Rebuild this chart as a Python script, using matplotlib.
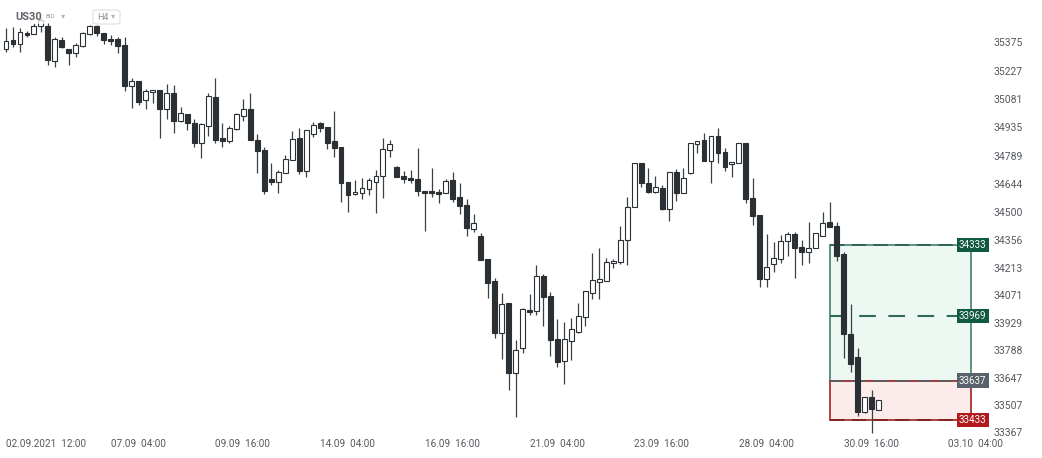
import numpy as np
import matplotlib.pyplot as plt
from matplotlib.patches import Rectangle, FancyBboxPatch

plt.rcParams['font.family'] = ['Roboto', 'DejaVu Sans']

# US30 H4 candles
opens = [35344, 35390, 35370, 35426, 35421, 35462, 35462, 35282, 35390, 35344,
         35323, 35359, 35421, 35462, 35426, 35395, 35395, 35364, 35153, 35179,
         35081, 35122, 35133, 35035, 35117, 34973, 35009, 34963, 34860, 34947,
         35097, 34885, 34870, 34932, 34999, 35035, 34875, 34824, 34674, 34659,
         34705, 34772, 34885, 34715, 34906, 34963, 34942, 34870, 34839, 34659,
         34597, 34602, 34623, 34659, 34690, 34824, 34736, 34690, 34679, 34674,
         34612, 34612, 34607, 34602, 34669, 34581, 34540, 34417, 34381, 34263,
         34149, 33881, 34036, 33675, 33804, 33999, 33994, 34175, 34072, 33850,
         33737, 33840, 33886, 33963, 34087, 34144, 34149, 34242, 34247, 34360,
         34530, 34757, 34654, 34607, 34628, 34520, 34710, 34602, 34705, 34855,
         34875, 34767, 34896, 34813, 34751, 34757, 34860, 34576, 34489, 34159,
         34236, 34263, 34355, 34391, 34324, 34298, 34319, 34381, 34453, 34432,
         34288, 33876, 33757, 33474, 33552, 33484]
highs = [35452, 35457, 35452, 35436, 35478, 35503, 35478, 35405, 35405, 35344,
         35375, 35431, 35467, 35467, 35426, 35416, 35405, 35405, 35194, 35179,
         35138, 35133, 35133, 35163, 35158, 35045, 35009, 34983, 34963, 35117,
         35194, 34963, 34947, 35014, 35086, 35117, 34906, 34839, 34757, 34721,
         34798, 34921, 34937, 34927, 34968, 34968, 34942, 35025, 34839, 34659,
         34669, 34679, 34679, 34721, 34885, 34875, 34741, 34715, 34721, 34834,
         34612, 34731, 34623, 34674, 34710, 34654, 34571, 34494, 34396, 34263,
         34164, 34087, 34036, 33845, 34010, 34082, 34231, 34185, 34092, 33953,
         33938, 33958, 34036, 34097, 34293, 34319, 34269, 34263, 34432, 34581,
         34757, 34757, 34731, 34690, 34643, 34710, 34726, 34731, 34860, 34870,
         34911, 34896, 34937, 34834, 34762, 34860, 34860, 34679, 34489, 34391,
         34350, 34386, 34401, 34401, 34360, 34453, 34396, 34504, 34556, 34453,
         34298, 34030, 33804, 33552, 33588, 33536]
lows = [35328, 35354, 35328, 35405, 35421, 35431, 35261, 35251, 35349, 35261,
        35303, 35354, 35416, 35411, 35370, 35364, 35323, 35127, 35040, 35056,
        35035, 35066, 34885, 34983, 34911, 34968, 34927, 34839, 34782, 34896,
        34860, 34839, 34860, 34927, 34973, 34875, 34705, 34597, 34643, 34602,
        34705, 34772, 34700, 34684, 34891, 34916, 34829, 34788, 34556, 34504,
        34592, 34571, 34592, 34499, 34576, 34788, 34684, 34654, 34654, 34587,
        34406, 34581, 34551, 34602, 34556, 34494, 34381, 34401, 34257, 34061,
        33855, 33747, 33588, 33448, 33778, 33974, 33974, 33917, 33762, 33706,
        33618, 33742, 33881, 33917, 34056, 34056, 34149, 34216, 34236, 34231,
        34530, 34633, 34602, 34602, 34515, 34458, 34561, 34602, 34700, 34808,
        34767, 34654, 34757, 34715, 34684, 34757, 34551, 34437, 34118, 34118,
        34195, 34242, 34278, 34164, 34231, 34242, 34319, 34381, 34427, 34252,
        33752, 33680, 33454, 33469, 33366, 33484]
closes = [35385, 35370, 35431, 35416, 35462, 35493, 35287, 35395, 35354, 35323,
          35364, 35426, 35462, 35426, 35390, 35385, 35359, 35153, 35179, 35071,
          35127, 35133, 35035, 35117, 34973, 35014, 34963, 34860, 34957, 35102,
          34875, 34870, 34937, 35009, 35035, 34875, 34819, 34612, 34659, 34710,
          34777, 34880, 34715, 34927, 34952, 34937, 34860, 34834, 34654, 34592,
          34607, 34628, 34669, 34690, 34829, 34855, 34684, 34674, 34669, 34612,
          34602, 34602, 34597, 34664, 34571, 34535, 34422, 34448, 34257, 34139,
          33881, 34030, 33675, 33793, 34005, 33989, 34175, 34067, 33845, 33731,
          33850, 33902, 33969, 34097, 34154, 34159, 34247, 34252, 34360, 34530,
          34757, 34654, 34607, 34633, 34520, 34710, 34602, 34679, 34860, 34870,
          34767, 34896, 34808, 34736, 34762, 34860, 34571, 34484, 34159, 34221,
          34269, 34355, 34391, 34319, 34298, 34319, 34396, 34448, 34427, 34278,
          33876, 33721, 33474, 33552, 33490, 33536]

price_ticks = [35375, 35227, 35081, 34935, 34789, 34644, 34500, 34356,
               34213, 34071, 33929, 33788, 33647, 33507, 33367]
date_labels = ['02.09.2021  12:00', '07.09  04:00', '09.09  16:00', '14.09  04:00',
               '16.09  16:00', '21.09  04:00', '23.09  16:00', '28.09  04:00',
               '30.09  16:00', '03.10  04:00']
label_step = 15

# long position tool
take_profit = 34333
mid_level = 33969
entry = 33637
stop_loss = 33433

W, H = 1042, 458
fig = plt.figure(figsize=(W / 100, H / 100), dpi=100)
ax = fig.add_axes([0, 0, 1, 1])
ax.axis('off')
ax.set_xlim(-0.86, 148.42)
ax.set_ylim(33238, 35596)

dark = '#2b3034'
o = np.array(opens)
c = np.array(closes)
idx = np.arange(len(o))
up = c >= o

ax.vlines(idx, lows, highs, color='#3b4045', lw=0.9, zorder=3)
ax.bar(idx[up], c[up] - o[up], bottom=o[up], width=0.7, color='white',
       edgecolor=dark, linewidth=0.8, zorder=4)
ax.bar(idx[~up], o[~up] - c[~up], bottom=c[~up], width=0.7, color=dark,
       edgecolor=dark, linewidth=0.8, zorder=4)

# position tool
x0, x1 = 118, 138.2
ax.add_patch(Rectangle((x0, entry), x1 - x0, take_profit - entry, facecolor='#edf8f3',
                       edgecolor='#4f8c77', lw=1.3, zorder=1))
ax.add_patch(Rectangle((x0, stop_loss), x1 - x0, entry - stop_loss, facecolor='#fcebeb',
                       edgecolor='#a83232', lw=1.3, zorder=1))
ax.hlines(take_profit, x0, x1, colors='#2f5f50', lw=1.3, linestyles=(0, (8, 4)), zorder=2)
ax.hlines(mid_level, x0, x1, colors='#2f6b55', lw=1.5, linestyles=(0, (8, 6)), zorder=2)
ax.hlines(entry, x0, x1, colors='#5b5f63', lw=1.3, linestyles=(0, (8, 4)), zorder=2)
ax.hlines(stop_loss, x0, x1, colors='#7d2222', lw=1.3, linestyles=(0, (8, 4)), zorder=2)

for val, col in [(take_profit, '#0f5a40'), (mid_level, '#0f5a40'),
                 (entry, '#57626c'), (stop_loss, '#b3191c')]:
    ax.text(x1 + 0.3, val, str(val), color='white', fontsize=7, ha='center', va='center',
            zorder=6, bbox=dict(boxstyle='square,pad=0.22', fc=col, ec='none'))

# price axis
for p in price_ticks:
    ax.text(141.5, p, str(p), fontsize=7.5, color='#555a5f', ha='left', va='center')

# time axis
for k, lab in enumerate(date_labels):
    ax.text(k * label_step, 33310, lab, fontsize=7.2, color='#555a5f', ha='left', va='center')

# header
fig.text(15 / W, 1 - 17 / H, 'US30', fontsize=8, fontweight='bold', color='#5f646a',
         va='center', bbox=dict(boxstyle='square,pad=0.2', fc='white', ec='none', alpha=0.75))
fig.text(45 / W, 1 - 17 / H, 'BID', fontsize=4.5, color='#9aa0a6', va='center')
fig.text(61 / W, 1 - 16 / H, '\u25BE', fontsize=6, color='#b0b5ba', va='center')
fig.patches.append(FancyBboxPatch((93 / W, 1 - 24 / H), 27 / W, 14 / H,
                                  boxstyle='round,pad=0,rounding_size=0.004',
                                  transform=fig.transFigure, fc='white', ec='#dcdfe2', lw=0.8))
fig.text(97 / W, 1 - 17 / H, 'H4', fontsize=6.5, color='#8a9096', va='center')
fig.text(111 / W, 1 - 16 / H, '\u25BE', fontsize=6, color='#b0b5ba', va='center')

fig.savefig('out.png', dpi=100)
